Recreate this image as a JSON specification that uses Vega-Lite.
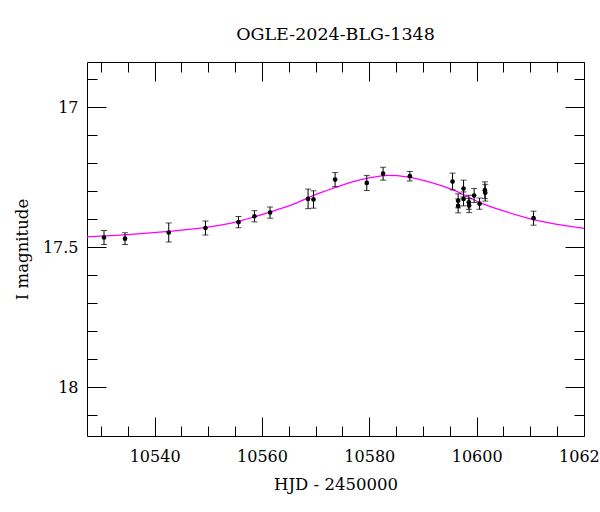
{
  "$schema": "https://vega.github.io/schema/vega-lite/v6.json",
  "width": 497,
  "height": 374,
  "autosize": "none",
  "padding": {"left": 87, "top": 62, "right": 16, "bottom": 76},
  "background": "white",
  "title": {"text": "OGLE-2024-BLG-1348", "font": "DejaVu Serif", "fontSize": 17.5, "fontWeight": "normal", "color": "black", "offset": 19},
  "config": {
    "view": {"stroke": "black", "strokeWidth": 1},
    "font": "DejaVu Serif",
    "axis": {
      "grid": true, "gridColor": "black", "gridOpacity": 1, "gridWidth": 1,
      "ticks": false, "domain": false, "tickCount": 100,
      "labelFont": "DejaVu Serif", "labelFontSize": 16, "labelColor": "black",
      "titleFont": "DejaVu Serif", "titleFontSize": 16.5, "titleFontWeight": "normal", "titleColor": "black",
      "labelOverlap": false, "labelFlush": false, "labelBound": false
    }
  },
  "datasets": {
    "obs": [
      {"hjd": 10530.57, "mag": 17.465, "lo": 17.440, "hi": 17.490},
      {"hjd": 10534.48, "mag": 17.469, "lo": 17.448, "hi": 17.490},
      {"hjd": 10542.63, "mag": 17.447, "lo": 17.413, "hi": 17.481},
      {"hjd": 10549.47, "mag": 17.431, "lo": 17.406, "hi": 17.456},
      {"hjd": 10555.62, "mag": 17.410, "lo": 17.390, "hi": 17.430},
      {"hjd": 10558.60, "mag": 17.389, "lo": 17.369, "hi": 17.409},
      {"hjd": 10561.51, "mag": 17.376, "lo": 17.356, "hi": 17.396},
      {"hjd": 10568.59, "mag": 17.327, "lo": 17.292, "hi": 17.362},
      {"hjd": 10569.60, "mag": 17.329, "lo": 17.298, "hi": 17.360},
      {"hjd": 10573.63, "mag": 17.258, "lo": 17.233, "hi": 17.283},
      {"hjd": 10579.53, "mag": 17.270, "lo": 17.243, "hi": 17.297},
      {"hjd": 10582.57, "mag": 17.237, "lo": 17.214, "hi": 17.260},
      {"hjd": 10587.55, "mag": 17.246, "lo": 17.229, "hi": 17.263},
      {"hjd": 10595.51, "mag": 17.265, "lo": 17.235, "hi": 17.295},
      {"hjd": 10596.55, "mag": 17.334, "lo": 17.309, "hi": 17.359},
      {"hjd": 10596.55, "mag": 17.352, "lo": 17.327, "hi": 17.377},
      {"hjd": 10597.56, "mag": 17.290, "lo": 17.260, "hi": 17.320},
      {"hjd": 10597.56, "mag": 17.327, "lo": 17.302, "hi": 17.352},
      {"hjd": 10598.55, "mag": 17.339, "lo": 17.314, "hi": 17.364},
      {"hjd": 10598.60, "mag": 17.351, "lo": 17.326, "hi": 17.376},
      {"hjd": 10599.53, "mag": 17.315, "lo": 17.290, "hi": 17.340},
      {"hjd": 10600.54, "mag": 17.344, "lo": 17.324, "hi": 17.364},
      {"hjd": 10601.53, "mag": 17.296, "lo": 17.266, "hi": 17.326},
      {"hjd": 10601.60, "mag": 17.305, "lo": 17.275, "hi": 17.335},
      {"hjd": 10610.60, "mag": 17.396, "lo": 17.371, "hi": 17.421}
    ],
    "model": [
      {"hjd": 10527.4, "mag": 17.463},
      {"hjd": 10535.0, "mag": 17.455},
      {"hjd": 10542.6, "mag": 17.443},
      {"hjd": 10549.5, "mag": 17.429},
      {"hjd": 10555.6, "mag": 17.407},
      {"hjd": 10561.5, "mag": 17.374},
      {"hjd": 10566.0, "mag": 17.345},
      {"hjd": 10570.0, "mag": 17.312},
      {"hjd": 10573.6, "mag": 17.287},
      {"hjd": 10577.0, "mag": 17.265},
      {"hjd": 10580.0, "mag": 17.252},
      {"hjd": 10583.5, "mag": 17.243},
      {"hjd": 10587.0, "mag": 17.248},
      {"hjd": 10591.3, "mag": 17.267},
      {"hjd": 10595.5, "mag": 17.294},
      {"hjd": 10600.6, "mag": 17.340},
      {"hjd": 10605.0, "mag": 17.370},
      {"hjd": 10610.6, "mag": 17.401},
      {"hjd": 10615.0, "mag": 17.418},
      {"hjd": 10620.0, "mag": 17.432}
    ]
  },
  "layer": [
    {
      "data": {"name": "model"},
      "mark": {"type": "line", "color": "#ff00ff", "strokeWidth": 1.3, "interpolate": "monotone", "clip": true},
      "encoding": {
        "x": {"field": "hjd", "type": "quantitative",
          "scale": {"domain": [10527.4, 10620], "nice": false, "zero": false},
          "axis": {"title": "HJD - 2450000", "orient": "bottom", "tickCount": 100,
            "values": [10530, 10535, 10540, 10545, 10550, 10555, 10560, 10565, 10570, 10575, 10580, 10585, 10590, 10595, 10600, 10605, 10610, 10615, 10620],
            "format": "d",
            "labelExpr": "datum.value % 20 === 0 ? datum.label : ''",
            "gridDash": {"condition": {"test": "datum.value % 20 === 0", "value": [19, 336, 19]}, "value": [10, 354, 10]},
            "labelPadding": 12, "titlePadding": 12}},
        "y": {"field": "mag", "type": "quantitative",
          "scale": {"domain": [16.838, 18.174], "reverse": true, "nice": false, "zero": false},
          "axis": {"title": "I magnitude", "orient": "left", "tickCount": 100,
            "values": [16.9, 17.0, 17.1, 17.2, 17.3, 17.4, 17.5, 17.6, 17.7, 17.8, 17.9, 18.0, 18.1],
            "format": ".1~f",
            "labelExpr": "abs(datum.value * 2 - round(datum.value * 2)) < 0.001 ? datum.label : ''",
            "gridDash": {"condition": {"test": "abs(datum.value * 2 - round(datum.value * 2)) < 0.001", "value": [19, 459, 19]}, "value": [10, 477, 10]},
            "labelPadding": 9, "titlePadding": 12}}
      }
    },
    {
      "data": {"name": "obs"},
      "mark": {"type": "rule", "color": "black", "strokeWidth": 1},
      "encoding": {
        "x": {"field": "hjd", "type": "quantitative"},
        "y": {"field": "lo", "type": "quantitative"},
        "y2": {"field": "hi"}
      }
    },
    {
      "data": {"name": "obs"},
      "mark": {"type": "tick", "orient": "horizontal", "color": "black", "size": 6, "thickness": 1},
      "encoding": {
        "x": {"field": "hjd", "type": "quantitative"},
        "y": {"field": "lo", "type": "quantitative"}
      }
    },
    {
      "data": {"name": "obs"},
      "mark": {"type": "tick", "orient": "horizontal", "color": "black", "size": 6, "thickness": 1},
      "encoding": {
        "x": {"field": "hjd", "type": "quantitative"},
        "y": {"field": "hi", "type": "quantitative"}
      }
    },
    {
      "data": {"name": "obs"},
      "mark": {"type": "point", "filled": true, "color": "black", "opacity": 1, "size": 22},
      "encoding": {
        "x": {"field": "hjd", "type": "quantitative"},
        "y": {"field": "mag", "type": "quantitative"}
      }
    }
  ]
}
